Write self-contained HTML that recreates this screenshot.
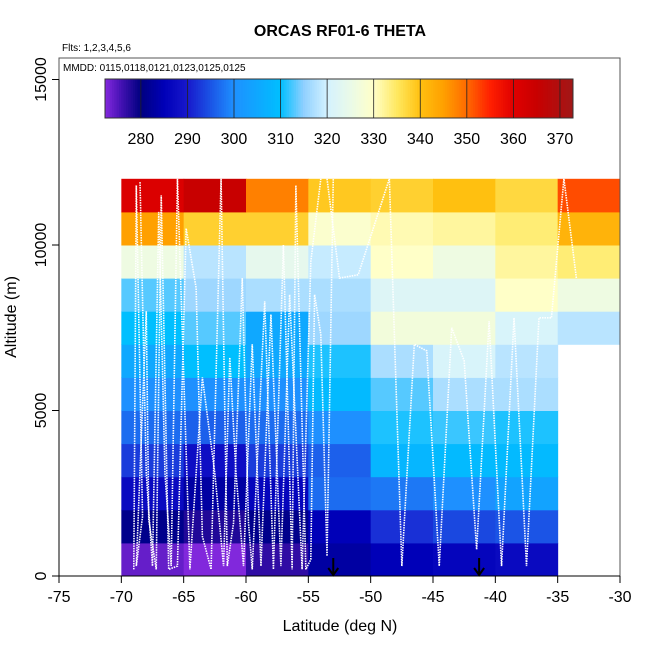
<!DOCTYPE html>
<html><head><meta charset="utf-8"><style>
body{margin:0;background:#fff;}
svg{display:block;font-family:"Liberation Sans",sans-serif;}
</style></head><body>
<svg id="chart" width="650" height="650" viewBox="0 0 650 650">
<text x="340" y="36" text-anchor="middle" font-size="16" font-weight="bold">ORCAS RF01-6 THETA</text>
<text x="62" y="51" font-size="10">Flts: 1,2,3,4,5,6</text>
<g id="cells"></g>
<g id="tracks"></g>
<g id="arrows"></g>
<rect x="59" y="58" width="561" height="518" fill="none" stroke="#555" stroke-width="1"/>
<text x="63" y="71" font-size="10">MMDD: 0115,0118,0121,0123,0125,0125</text>
<g id="cbar"></g>
<g id="axes"></g>
<text x="340" y="631" text-anchor="middle" font-size="16">Latitude (deg N)</text>
<text x="0" y="0" transform="translate(16,317) rotate(-90)" text-anchor="middle" font-size="16">Altitude (m)</text>
</svg>
<script>
const lonEdges=[-70,-65,-60,-55,-50,-45,-40,-35,-30];
const altEdges=[0,1000,2000,3000,4000,5000,6000,7000,8000,9000,10000,11000,12000];
// theta rows from bottom (0-1000m) to top (11000-12000m), null = no data
const thetaRows=[
[274,272.5,277,283,285,286,287,null],
[281,278,281,285,292,294,295,null],
[287,283,286,297,298,300,304,null],
[293,288,293,296,308,309,309,null],
[297,296,297,300,311,312,311,null],
[300,300,300,309,313,317,317,null],
[305,310,305,311,317,321,318,null],
[310,313,305,316,327,327,321,318],
[313,316,317,317,322,322,330,326],
[326,318,324,319,330,326,332,334],
[345,338,338,329,331,332,334,342],
[361,365,348,339,338,340,337,352]];
const xTicks=[-75,-70,-65,-60,-55,-50,-45,-40,-35,-30];
const yTicks=[0,5000,10000,15000];
const cbTicks=[280,290,300,310,320,330,340,350,360,370];
const track1Lat=[-69,-68.8,-68.3,-68.8,-68,-67.8,-67.2,-66.8,-66.2,-65.5,-64.8,-64,-63.5,-62.8,-62,-61.5,-61,-60.3,-59.8,-59.5,-58.5,-57.8,-57,-56.3,-56,-55.2,-54.8,-54.5,-54,-53.5,-53];
const track1Alt=[200,11800,1800,300,8000,1700,200,11500,200,300,10500,8700,1200,200,12000,300,1600,9000,1600,200,8300,200,10000,200,11800,200,500,8500,7300,600,12000];
const track2Lat=[-68.5,-68,-67.5,-67,-66.5,-66,-65.5,-64.5,-63.5,-62.5,-61.8,-61.3,-60.8,-60.2,-59.5,-58.8,-58,-57.2,-56.5,-55.5,-54.8,-54];
const track2Alt=[11900,3100,300,11000,3100,300,12000,200,6000,3100,300,6600,3100,300,7000,300,7900,300,8500,200,9500,12000];
const track3Lat=[-53.5,-52.5,-51,-48.5,-47.5,-46.5,-45.5,-44.5,-43.5,-42.5,-41.5,-40.5,-39.5,-38.5,-37.5,-36.5,-35.5,-34.5,-33.5];
const track3Alt=[12000,9000,9100,12000,300,7000,6800,300,7500,6500,800,7700,300,7800,300,7800,7800,12000,9000];
const arrowLat=[-53,-41.3];

const NS='http://www.w3.org/2000/svg';
const X0=59,X1=620,Y0=576,YT=79.5;
function xs(v){return X0+(v+75)/45*(X1-X0);}
function ys(v){return Y0-v/15000*(Y0-YT);}
const stops=[[272,'#8a2be2'],[276,'#4010b0'],[280,'#000080'],[285,'#0000b8'],[290,'#1818cc'],[300,'#1e90ff'],[310,'#00bfff'],[315,'#90d0ff'],[320,'#d4f2ff'],[325,'#eafae8'],[330,'#ffffc8'],[335,'#ffe860'],[340,'#ffc010'],[345,'#ffa000'],[350,'#ff6a00'],[355,'#ff2000'],[360,'#e00000'],[365,'#c80000'],[373,'#a01818']];
function hex(c){return [1,3,5].map(i=>parseInt(c.substr(i,2),16));}
function cmap(v){
 if(v<=stops[0][0])return stops[0][1];
 for(let i=1;i<stops.length;i++){if(v<=stops[i][0]){const a=hex(stops[i-1][1]),b=hex(stops[i][1]);const t=(v-stops[i-1][0])/(stops[i][0]-stops[i-1][0]);return 'rgb('+a.map((x,k)=>Math.round(x+(b[k]-x)*t)).join(',')+')';}}
 return stops[stops.length-1][1];
}
function mk(tag,attrs,parent){const e=document.createElementNS(NS,tag);for(const k in attrs)e.setAttribute(k,attrs[k]);parent.appendChild(e);return e;}
const cells=document.getElementById('cells');
thetaRows.forEach((row,r)=>row.forEach((v,c)=>{
 if(v===null)return;
 const x=xs(lonEdges[c]),x2=xs(lonEdges[c+1]),y=ys(altEdges[r+1]),y2=ys(altEdges[r]);
 const e=mk('rect',{x:x,y:y,width:x2-x+0.5,height:y2-y+0.5,fill:cmap(v)},cells);
 
 
}));
const tr=document.getElementById('tracks');
[[track1Lat,track1Alt],[track2Lat,track2Alt],[track3Lat,track3Alt]].forEach(([la,al])=>{
 const e=mk('polyline',{points:la.map((v,i)=>xs(v)+','+ys(al[i])).join(' '),fill:'none',stroke:'#fff','stroke-width':1.6,'stroke-dasharray':'1.5 1'},tr);
 
 
});
const ar=document.getElementById('arrows');
arrowLat.forEach(v=>{
 const x=xs(v);
 const g=mk('g',{stroke:'#000','stroke-width':2,fill:'none'},ar);
 
 
 mk('line',{x1:x,y1:558,x2:x,y2:575},g);
 mk('polyline',{points:(x-5)+',568 '+x+',575 '+(x+5)+',568'},g);
});
// colorbar
const cb=document.getElementById('cbar');
const CL=105,CR=573,CT=79,CB=118,VL=272.3,VR=372.8;
function cx(v){return CL+(v-VL)/(VR-VL)*(CR-CL);}
for(let v=VL;v<VR;v+=0.5){mk('rect',{x:cx(v),y:CT,width:(CR-CL)/(VR-VL)*0.5+0.4,height:CB-CT,fill:cmap(v+0.25)},cb);}
mk('rect',{x:CL,y:CT,width:CR-CL,height:CB-CT,fill:'none',stroke:'#333','stroke-width':1},cb);
cbTicks.forEach(t=>{
 mk('line',{x1:cx(t),y1:CT,x2:cx(t),y2:CB,stroke:'#222','stroke-width':0.8},cb);
 const e=mk('text',{x:cx(t),y:144,'text-anchor':'middle','font-size':16},cb);
 e.textContent=t;
 
 
});
// axes
const ax=document.getElementById('axes');
mk('line',{x1:xs(-75),y1:576,x2:xs(-30),y2:576,stroke:'#000'},ax);
xTicks.forEach(t=>{
 mk('line',{x1:xs(t),y1:576,x2:xs(t),y2:583,stroke:'#000'},ax);
 const e=mk('text',{x:xs(t),y:602,'text-anchor':'middle','font-size':16},ax);
 e.textContent=t;
 
 
});
mk('line',{x1:59,y1:ys(0),x2:59,y2:ys(15000),stroke:'#000'},ax);
yTicks.forEach(t=>{
 mk('line',{x1:52,y1:ys(t),x2:59,y2:ys(t),stroke:'#000'},ax);
 const e=mk('text',{x:0,y:0,transform:'translate(46,'+ys(t)+') rotate(-90)','text-anchor':'middle','font-size':16},ax);
 e.textContent=t;
 
 
});
</script>
</body></html>
